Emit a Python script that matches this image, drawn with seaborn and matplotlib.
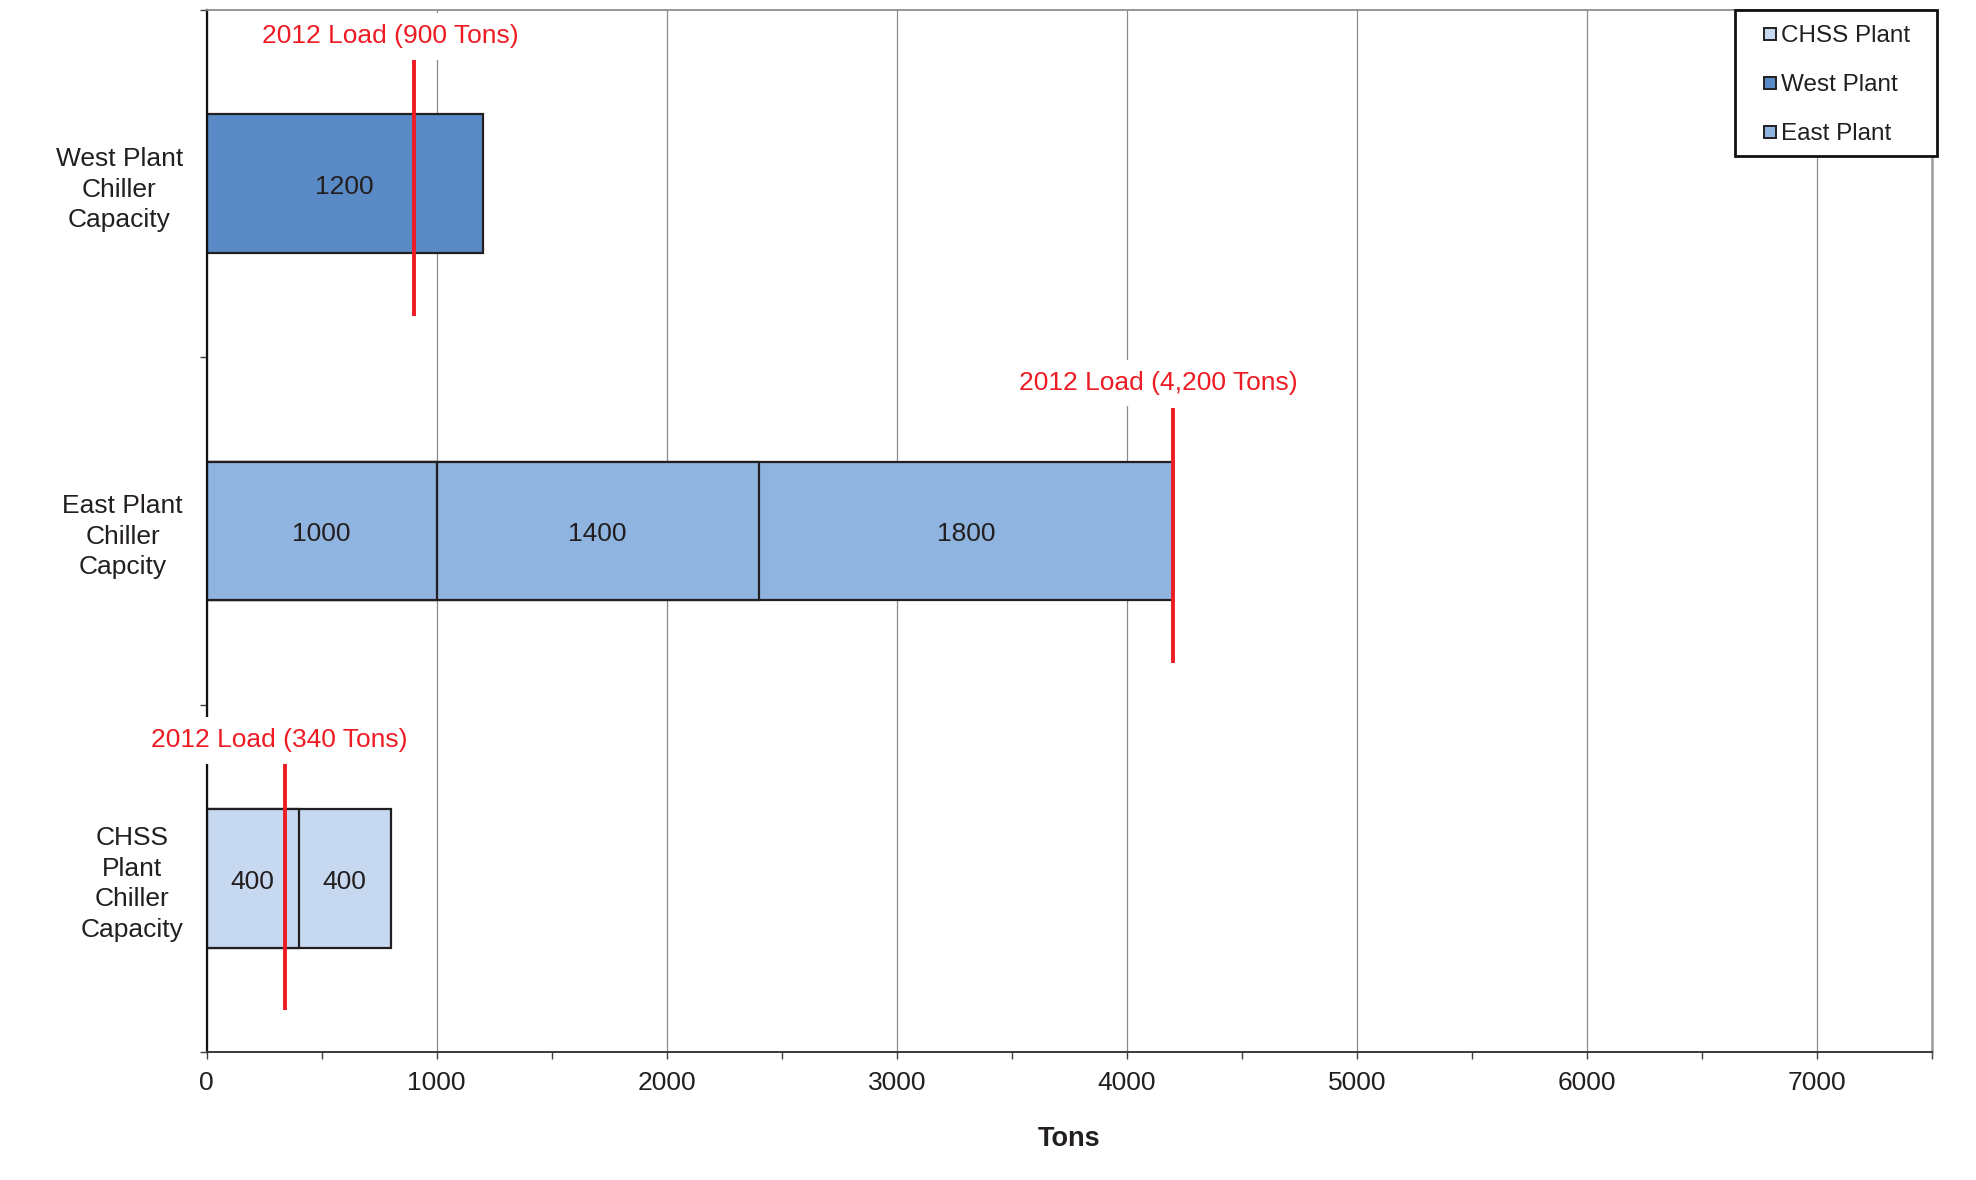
import matplotlib
matplotlib.use("Agg")
import matplotlib.pyplot as plt
from matplotlib.lines import Line2D
from matplotlib.patches import Rectangle
from matplotlib.ticker import MultipleLocator, FixedLocator
import numpy as np
import pandas as pd
import seaborn as sns

# ---- data ----
row_labels = ["West Plant\nChiller\nCapacity",
              "East Plant\nChiller\nCapcity",
              "CHSS\nPlant\nChiller\nCapacity"]
row_plants = ["West Plant", "East Plant", "CHSS Plant"]
west_chillers = [1200]
east_chillers = [1000, 1400, 1800]
chss_chillers = [400, 400]
loads_2012 = [900, 4200, 340]
load_labels = ["2012 Load (900 Tons)", "2012 Load (4,200 Tons)", "2012 Load (340 Tons)"]
legend_order = ["CHSS Plant", "West Plant", "East Plant"]
x_max = 7500

# ---- styling ----
plant_colors = {"West Plant": "#5A8AC6", "East Plant": "#8FB4DF", "CHSS Plant": "#C6D9F0"}
ink = "#231F20"
red = "#ED1C24"
grid_grey = "#8A8A8A"
font_size = 19
load_label_pos = [(798, -0.424), (4137, -0.426), (317, -0.397)]
load_span = (-0.355, 0.38)

sns.set_theme(style="white")
plt.rcParams["font.family"] = ["Liberation Sans", "DejaVu Sans"]

records = []
for row, plant, sizes in zip(row_labels, row_plants,
                             [west_chillers, east_chillers, chss_chillers]):
    ends = np.cumsum(sizes)
    for level, (size, end) in enumerate(zip(sizes, ends)):
        records.append(dict(row=row, plant=plant, level=level,
                            size=size, start=end - size, end=end))
df = pd.DataFrame(records)

fig = plt.figure(figsize=(19.76, 11.8), dpi=100)
ax = fig.add_axes([0.1046, 0.1085, 0.8731, 0.8830])

# stacked bars: draw the cumulative totals longest first, shorter ones on top
for level in sorted(df["level"].unique(), reverse=True):
    sub = df[df["level"] == level]
    sns.barplot(data=sub, x="end", y="row", hue="plant", order=row_labels,
                hue_order=row_plants, palette=plant_colors, dodge=False,
                width=0.4, saturation=1, errorbar=None, orient="y",
                edgecolor=ink, linewidth=1.6, legend=False, ax=ax, zorder=2)

# segment values
row_index = {r: i for i, r in enumerate(row_labels)}
for rec in records:
    ax.text(rec["start"] + rec["size"] / 2, row_index[rec["row"]] + 0.01, f"{rec['size']}",
            ha="center", va="center", fontsize=font_size, color=ink, zorder=3)

# 2012 load markers
for i, (load, label, (lx, ly)) in enumerate(zip(loads_2012, load_labels, load_label_pos)):
    ax.plot([load, load], [i + load_span[0], i + load_span[1]], color=red,
            lw=2.8, solid_capstyle="butt", zorder=4)
    ax.text(lx, i + ly, label, ha="center", va="center", fontsize=font_size, color=red,
            zorder=5, clip_on=False,
            bbox=dict(facecolor="white", edgecolor="none", pad=8))

ax.set_xlim(0, x_max)
ax.set_ylim(len(row_labels) - 0.5, -0.5)

ax.xaxis.set_minor_locator(MultipleLocator(500))
ax.set_xticks(list(range(0, 8000, 1000)))
ax.tick_params(axis="x", which="both", direction="out", length=5, width=1,
               color="#404040", pad=9, labelsize=font_size, labelcolor=ink, bottom=True)
ax.set_yticks(range(len(row_labels)))
ax.set_yticklabels(row_labels, fontsize=font_size, color=ink,
                   multialignment="center", linespacing=1.35)
ax.yaxis.set_minor_locator(FixedLocator(np.arange(-0.5, len(row_labels), 1.0)))
ax.tick_params(axis="y", which="major", length=0, pad=17)
ax.tick_params(axis="y", which="minor", direction="out", length=5, width=1,
               color="#404040", left=True)

ax.grid(axis="x", which="major", color=grid_grey, lw=0.9)
ax.grid(axis="y", visible=False)
ax.set_axisbelow(True)

for side, col, lw in [("left", "#111111", 1.6), ("bottom", "#3A3A3A", 1.4),
                      ("top", "#8F8F8F", 1.3), ("right", "#9A9A9A", 1.8)]:
    ax.spines[side].set_visible(True)
    ax.spines[side].set_color(col)
    ax.spines[side].set_linewidth(lw)

ax.set_ylabel("")
ax.set_xlabel("Tons", fontsize=19.5, fontweight="bold", color=ink, labelpad=22)

# legend: square swatches inside a plain black box at the top right corner
box_x0, box_y0 = 0.8858, 0.860
ax.add_patch(Rectangle((box_x0, box_y0), 1.0029 - box_x0, 1.0 - box_y0,
                       transform=ax.transAxes, facecolor="white", edgecolor="#111111",
                       linewidth=2, clip_on=False, zorder=6))
handles = [Line2D([], [], marker="s", linestyle="none", markersize=9,
                  markerfacecolor=plant_colors[p], markeredgecolor=ink,
                  markeredgewidth=1.4) for p in legend_order]
leg = ax.legend(handles, legend_order, loc="upper left", bbox_to_anchor=(box_x0, 1.0),
                borderaxespad=0, fontsize=17.5, frameon=False,
                handlelength=1.6, handleheight=0.6, handletextpad=-0.33,
                labelspacing=1.1, borderpad=0.63)
leg.set_zorder(7)
for t in leg.get_texts():
    t.set_color(ink)

fig.savefig("out.png", dpi=100, facecolor="white")
